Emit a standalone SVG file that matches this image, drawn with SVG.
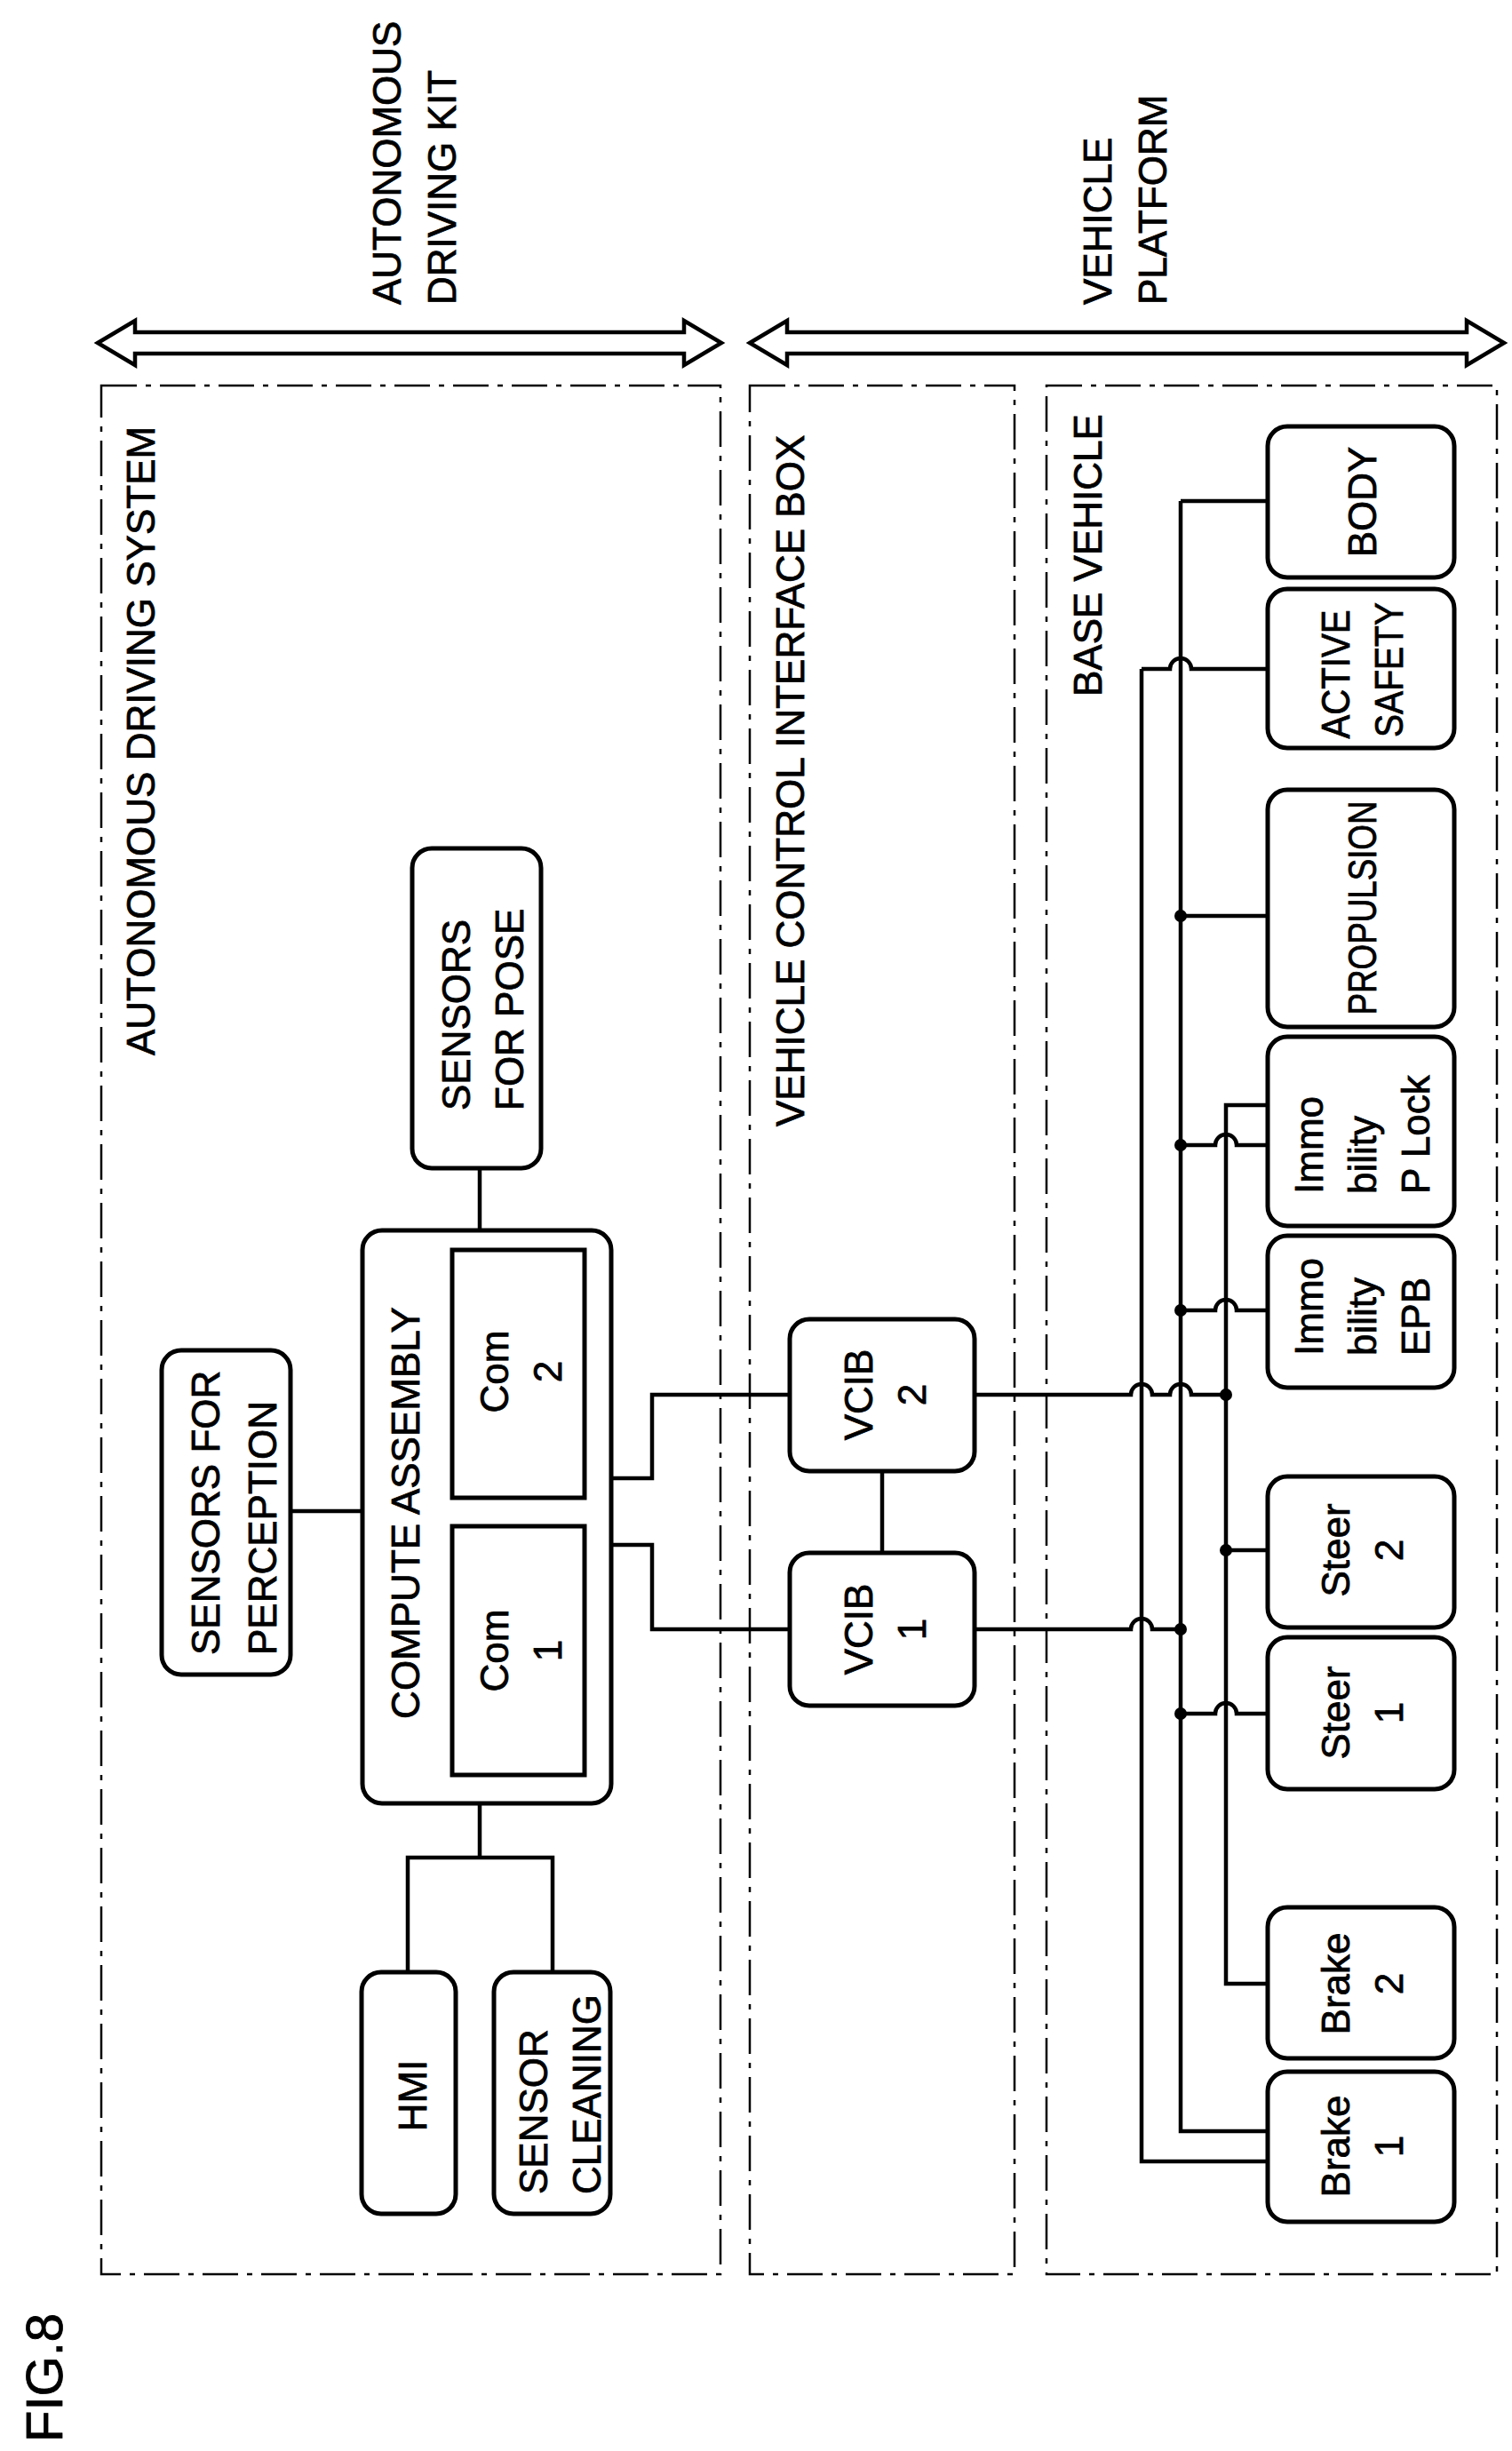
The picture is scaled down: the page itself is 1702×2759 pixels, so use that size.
<svg xmlns="http://www.w3.org/2000/svg" width="1702" height="2759" viewBox="0 0 1702 2759">
<style>
text{font-family:"Liberation Sans",Arial,sans-serif;font-size:44px;fill:#000;stroke:#000;stroke-width:0.8;dominant-baseline:central}
.n{fill:#fff;stroke:#000;stroke-width:5}
.d{fill:none;stroke:#000;stroke-width:2.5;stroke-dasharray:40 10 6 10}
.w{fill:none;stroke:#000;stroke-width:4.5}
.a{fill:#fff;stroke:#000;stroke-width:4.5;stroke-linejoin:miter}
</style>
<rect width="1702" height="2759" fill="#fff"/>
<g id="arrows">
<polygon class="a" points="110,386 152,361 152,374 770,374 770,361 812,386 770,411 770,398 152,398 152,411"/>
<polygon class="a" points="844,386 886,361 886,374 1651,374 1651,361 1693,386 1651,411 1651,398 886,398 886,411"/>
</g>
<g id="labels">
<text transform="translate(435,343) rotate(-90)">AUTONOMOUS</text>
<text transform="translate(497,343) rotate(-90)">DRIVING KIT</text>
<text transform="translate(1235,343) rotate(-90)">VEHICLE</text>
<text transform="translate(1297,343) rotate(-90)">PLATFORM</text>
<text transform="translate(49,2749) rotate(-90)" style="font-size:58px">FIG.8</text>
</g>
<g id="groups">
<rect class="d" x="114" y="434" width="697" height="2126"/>
<rect class="d" x="844" y="434" width="298" height="2126"/>
<rect class="d" x="1178" y="434" width="507" height="2126"/>
<text transform="translate(158,1188) rotate(-90)">AUTONOMOUS DRIVING SYSTEM</text>
<text transform="translate(889,1268) rotate(-90)">VEHICLE CONTROL INTERFACE BOX</text>
<text transform="translate(1224,784) rotate(-90)">BASE VEHICLE</text>
</g>
<g id="connectors" class="w">
<path d="M540,1315V1385"/>
<path d="M327,1701H408"/>
<path d="M540,2030V2091M459,2220V2091H622V2220"/>
<path d="M687,1664H734V1570H889"/>
<path d="M687,1739H734V1834H889"/>
<path d="M993,1656V1748"/>
<path d="M1285,753H1317A12,12 0 0 1 1341,753H1427"/>
<path d="M1285,753V2433H1427"/>
<path d="M1329,564H1427M1329,564V2399H1427"/>
<path d="M1329,1031H1427"/>
<path d="M1329,1289H1368A12,12 0 0 1 1392,1289H1427"/>
<path d="M1329,1475H1368A12,12 0 0 1 1392,1475H1427"/>
<path d="M1329,1929H1368A12,12 0 0 1 1392,1929H1427"/>
<path d="M1427,1244H1380V2233H1427"/>
<path d="M1380,1745H1427"/>
<path d="M1097,1834H1273A12,12 0 0 1 1297,1834H1329"/>
<path d="M1097,1570H1273A12,12 0 0 1 1297,1570H1317A12,12 0 0 1 1341,1570H1380"/>
</g>
<g id="dots">
<circle cx="1329" cy="1031" r="7"/>
<circle cx="1329" cy="1289" r="7"/>
<circle cx="1329" cy="1475" r="7"/>
<circle cx="1329" cy="1834" r="7"/>
<circle cx="1329" cy="1929" r="7"/>
<circle cx="1380" cy="1570" r="7"/>
<circle cx="1380" cy="1745" r="7"/>
</g>
<g id="sensors-pose"><rect class="n" x="464" y="955" width="145" height="360" rx="22"/>
<text transform="translate(513,1250) rotate(-90)">SENSORS</text><text transform="translate(573,1250) rotate(-90)">FOR POSE</text></g>
<g id="sensors-perception"><rect class="n" x="182" y="1520" width="145" height="365" rx="22"/>
<text transform="translate(231,1863) rotate(-90)">SENSORS FOR</text><text transform="translate(295,1863) rotate(-90)">PERCEPTION</text></g>
<g id="compute"><rect class="n" x="408" y="1385" width="280" height="645" rx="22"/>
<text transform="translate(456,1703) rotate(-90)" text-anchor="middle">COMPUTE ASSEMBLY</text></g>
<g id="com2"><rect class="n" x="509" y="1407" width="149" height="279"/>
<text transform="translate(556,1544) rotate(-90)" text-anchor="middle">Com</text><text transform="translate(616,1544) rotate(-90)" text-anchor="middle">2</text></g>
<g id="com1"><rect class="n" x="509" y="1718" width="149" height="280"/>
<text transform="translate(556,1858) rotate(-90)" text-anchor="middle">Com</text><text transform="translate(616,1858) rotate(-90)" text-anchor="middle">1</text></g>
<g id="hmi"><rect class="n" x="407" y="2220" width="106" height="272" rx="22"/>
<text transform="translate(464,2359) rotate(-90)" text-anchor="middle">HMI</text></g>
<g id="sensor-cleaning"><rect class="n" x="556" y="2220" width="131" height="272" rx="22"/>
<text transform="translate(600,2470) rotate(-90)">SENSOR</text><text transform="translate(660,2470) rotate(-90)">CLEANING</text></g>
<g id="vcib2"><rect class="n" x="889" y="1485" width="208" height="171" rx="22"/>
<text transform="translate(966,1570) rotate(-90)" text-anchor="middle">VCIB</text><text transform="translate(1026,1570) rotate(-90)" text-anchor="middle">2</text></g>
<g id="vcib1"><rect class="n" x="889" y="1748" width="208" height="172" rx="22"/>
<text transform="translate(966,1834) rotate(-90)" text-anchor="middle">VCIB</text><text transform="translate(1026,1834) rotate(-90)" text-anchor="middle">1</text></g>
<g id="body"><rect class="n" x="1427" y="480" width="210" height="170" rx="22"/>
<text transform="translate(1533,565) rotate(-90)" text-anchor="middle">BODY</text></g>
<g id="active-safety"><rect class="n" x="1427" y="663" width="210" height="179" rx="22"/>
<text transform="translate(1503,759) rotate(-90)" text-anchor="middle" textLength="145" lengthAdjust="spacingAndGlyphs">ACTIVE</text><text transform="translate(1563,754) rotate(-90)" text-anchor="middle" textLength="152" lengthAdjust="spacingAndGlyphs">SAFETY</text></g>
<g id="propulsion"><rect class="n" x="1427" y="889" width="210" height="267" rx="22"/>
<text transform="translate(1533,1022) rotate(-90)" text-anchor="middle" textLength="241" lengthAdjust="spacingAndGlyphs">PROPULSION</text></g>
<g id="immo-plock"><rect class="n" x="1427" y="1167" width="210" height="213" rx="22"/>
<text transform="translate(1473,1344) rotate(-90)">Immo</text><text transform="translate(1533,1344) rotate(-90)">bility</text><text transform="translate(1593,1344) rotate(-90)">P Lock</text></g>
<g id="immo-epb"><rect class="n" x="1427" y="1391" width="210" height="171" rx="22"/>
<text transform="translate(1473,1526) rotate(-90)">Immo</text><text transform="translate(1533,1526) rotate(-90)">bility</text><text transform="translate(1593,1526) rotate(-90)">EPB</text></g>
<g id="steer2"><rect class="n" x="1427" y="1662" width="210" height="170" rx="22"/>
<text transform="translate(1503,1745) rotate(-90)" text-anchor="middle">Steer</text><text transform="translate(1563,1745) rotate(-90)" text-anchor="middle">2</text></g>
<g id="steer1"><rect class="n" x="1427" y="1843" width="210" height="171" rx="22"/>
<text transform="translate(1503,1928) rotate(-90)" text-anchor="middle">Steer</text><text transform="translate(1563,1928) rotate(-90)" text-anchor="middle">1</text></g>
<g id="brake2"><rect class="n" x="1427" y="2147" width="210" height="170" rx="22"/>
<text transform="translate(1503,2233) rotate(-90)" text-anchor="middle">Brake</text><text transform="translate(1563,2233) rotate(-90)" text-anchor="middle">2</text></g>
<g id="brake1"><rect class="n" x="1427" y="2332" width="210" height="169" rx="22"/>
<text transform="translate(1503,2416) rotate(-90)" text-anchor="middle">Brake</text><text transform="translate(1563,2416) rotate(-90)" text-anchor="middle">1</text></g>
</svg>
